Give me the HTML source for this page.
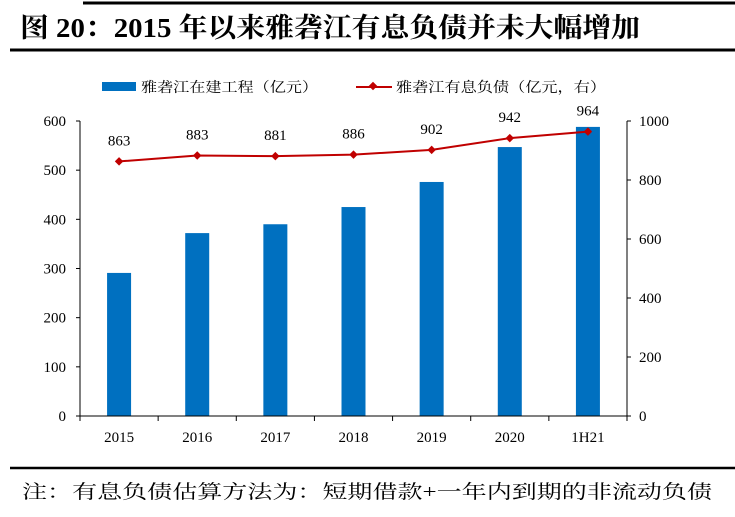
<!DOCTYPE html>
<html><head><meta charset="utf-8"><style>
body{margin:0;background:#fff;width:735px;height:512px;overflow:hidden;font-family:"Liberation Serif","Noto Serif CJK SC",serif;}
svg text{font-family:"Liberation Serif","Noto Serif CJK SC",serif;}
</style></head><body>
<svg width="735" height="512">
<line x1="83" y1="3" x2="735" y2="3" stroke="#000" stroke-width="3"/>
<text x="20" y="37" font-size="27" font-weight="bold" textLength="620" lengthAdjust="spacingAndGlyphs">图 20：2015 年以来雅砻江有息负债并未大幅增加</text>
<line x1="10" y1="50" x2="735" y2="50" stroke="#000" stroke-width="3"/>
<g>
<rect x="102" y="82" width="34" height="9" fill="#0070c0"/>
<text x="141" y="92" font-size="14" textLength="177" lengthAdjust="spacingAndGlyphs">雅砻江在建工程（亿元）</text>
<line x1="356" y1="87" x2="392" y2="87" stroke="#c00000" stroke-width="2"/>
<rect x="370" y="83" width="6" height="6" fill="#c00000" transform="rotate(45 373 86)"/>
<text x="396" y="92" font-size="14" textLength="210" lengthAdjust="spacingAndGlyphs">雅砻江有息负债（亿元，右）</text>
</g>
<g id="plot"></g>
<line x1="10" y1="468" x2="735" y2="468" stroke="#000" stroke-width="2.5"/>
<text x="22" y="498" font-size="19" textLength="690" lengthAdjust="spacingAndGlyphs">注：有息负债估算方法为：短期借款+一年内到期的非流动负债</text>
</svg>
<script>
const categories=["2015","2016","2017","2018","2019","2020","1H21"];
const barValues=[291,372,390,425,476,547,588];
const lineValues=[863,883,881,886,902,942,964];
const leftTicks=[0,100,200,300,400,500,600];
const rightTicks=[0,200,400,600,800,1000];
const NS="http://www.w3.org/2000/svg";
const g=document.getElementById("plot");
const X0=80,X1=627,Y0=416,Y1=121;
const band=(X1-X0)/categories.length;
const xc=i=>X0+band*(i+0.5);
const yL=v=>Y0-(v/600)*(Y0-Y1);
const yR=v=>Y0-(v/1000)*(Y0-Y1);
function el(t,a,p){const e=document.createElementNS(NS,t);for(const k in a)e.setAttribute(k,a[k]);(p||g).appendChild(e);return e;}
barValues.forEach((v,i)=>{
 const r=el("rect",{x:xc(i)-12,y:yL(v),width:24,height:Y0-yL(v),fill:"#0070c0"});
 
 
});
let a=el("line",{x1:X0,y1:Y1,x2:X0,y2:Y0,stroke:"#000"});


a=el("line",{x1:X1,y1:Y1,x2:X1,y2:Y0,stroke:"#000"});


a=el("line",{x1:X0,y1:Y0,x2:X1,y2:Y0,stroke:"#000"});


leftTicks.forEach(v=>{
 el("line",{x1:X0-4,y1:yL(v),x2:X0,y2:yL(v),stroke:"#000"});
 const t=el("text",{x:X0-14,y:yL(v)+5,"font-size":15,"text-anchor":"end"});t.textContent=v;
 
 
});
rightTicks.forEach(v=>{
 el("line",{x1:X1,y1:yR(v),x2:X1+4,y2:yR(v),stroke:"#000"});
 const t=el("text",{x:X1+12,y:yR(v)+5,"font-size":15});t.textContent=v;
 
 
});
for(let i=0;i<=categories.length;i++)el("line",{x1:X0+band*i,y1:Y0,x2:X0+band*i,y2:Y0+5,stroke:"#000"});
categories.forEach((c,i)=>{
 const t=el("text",{x:xc(i),y:442,"font-size":15,"text-anchor":"middle"});t.textContent=c;
 
 
});
const p=el("polyline",{points:lineValues.map((v,i)=>xc(i)+","+yR(v)).join(" "),fill:"none",stroke:"#c00000","stroke-width":2});


lineValues.forEach((v,i)=>{
 const m=el("rect",{x:xc(i)-3,y:yR(v)-3,width:6,height:6,fill:"#c00000",transform:`rotate(45 ${xc(i)} ${yR(v)})`});
 
 
 const t=el("text",{x:xc(i),y:yR(v)-16,"font-size":15,"text-anchor":"middle"});t.textContent=v;
 
 
});
</script>
</body></html>
